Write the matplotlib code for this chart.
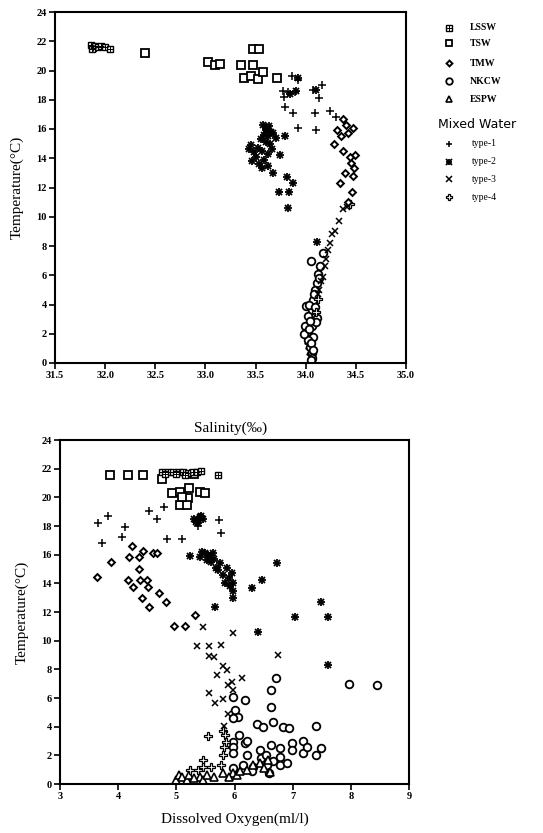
import matplotlib
matplotlib.use("Agg")
import matplotlib.pyplot as plt
from matplotlib.lines import Line2D

# ---- upper panel: salinity vs temperature ----
lssw_s = [31.86, 31.88, 31.90, 31.93, 31.96, 32.00, 32.05, 31.87]
lssw_t = [21.75, 21.55, 21.70, 21.60, 21.70, 21.60, 21.50, 21.45]

tsw_s = [32.40, 33.03, 33.10, 33.15, 33.35, 33.47, 33.38, 33.45, 33.52, 33.57, 33.71, 33.47, 33.53]
tsw_t = [21.2, 20.6, 20.35, 20.45, 20.35, 20.35, 19.5, 19.6, 19.45, 19.9, 19.5, 21.5, 21.5]

tmw_s = [34.37, 34.31, 34.47, 34.42, 34.35, 34.28, 34.37, 34.49, 34.45, 34.48, 34.39, 34.47,
         34.34, 34.46, 34.42, 34.44, 34.40]
tmw_t = [16.7, 15.9, 16.1, 15.7, 15.5, 15.0, 14.5, 14.2, 13.7, 13.3, 13.0, 12.8,
         12.3, 11.7, 11.0, 14.1, 16.3]

nkcw_s = [34.05, 34.17, 34.14, 34.12, 34.11, 34.09, 34.07, 34.00, 34.06, 34.11, 34.02, 33.99,
          34.06, 34.01, 34.07, 34.04, 34.06, 34.06, 34.02, 34.10, 34.03, 34.08, 34.13, 34.04,
          33.98, 34.05, 34.07, 34.05, 34.03, 34.09]
nkcw_t = [7.0, 7.5, 6.6, 6.1, 5.5, 5.0, 4.3, 3.9, 3.6, 3.1, 3.2, 2.5,
          2.5, 2.1, 1.8, 1.1, 0.7, 0.35, 1.6, 2.8, 4.0, 4.7, 5.8, 2.9,
          2.0, 1.4, 0.9, 0.2, 2.3, 3.8]

espw_s = [34.02, 34.03, 34.01, 34.04, 34.05, 34.06, 34.05, 34.03, 34.00]
espw_t = [2.0, 1.6, 2.4, 1.2, 0.8, 0.4, 0.1, 1.9, 2.2]

t1_s = [33.86, 33.92, 33.77, 33.89, 33.82, 33.78, 33.79, 33.87, 34.09, 34.24, 33.92, 34.10,
        34.07, 34.16, 34.13, 34.30]
t1_t = [19.6, 19.35, 18.6, 18.5, 18.5, 18.2, 17.5, 17.1, 17.1, 17.2, 16.1, 15.95,
        18.7, 19.0, 18.1, 16.8]

t2_s = [33.57, 33.60, 33.63, 33.60, 33.65, 33.58, 33.62, 33.67, 33.55, 33.60, 33.70, 33.64,
        33.79, 33.45, 33.43, 33.48, 33.52, 33.56, 33.50, 33.46, 33.53, 33.58, 33.62, 33.66,
        33.74, 33.56, 33.62, 33.67, 33.81, 33.87, 33.73, 33.83, 33.82, 34.11, 33.92, 33.90,
        34.10, 33.84]
t2_t = [16.3, 16.1, 16.2, 15.9, 15.8, 15.6, 15.5, 15.7, 15.3, 15.1, 15.4, 15.0,
        15.5, 14.9, 14.6, 14.4, 14.7, 14.5, 14.1, 13.8, 13.6, 13.9, 14.3, 14.6,
        14.2, 13.3, 13.5, 13.0, 12.7, 12.3, 11.7, 11.7, 10.6, 8.3, 19.5, 18.6,
        18.7, 18.4]

t3_s = [34.41, 34.33, 34.29, 34.26, 34.24, 34.22, 34.20, 34.19, 34.17, 34.15, 34.13, 34.37, 34.12]
t3_t = [10.7, 9.7, 9.0, 8.8, 8.2, 7.7, 7.1, 6.6, 5.9, 5.6, 5.0, 10.5, 4.7]

t4_s = [34.44, 34.12, 34.10]
t4_t = [10.9, 4.4, 3.5]

# ---- lower panel: dissolved oxygen vs temperature ----
lssw_o = [4.75, 4.85, 4.95, 5.05, 5.12, 5.20, 5.28, 5.35, 5.42, 5.72, 4.80, 5.00, 5.15]
lssw_t2 = [21.8, 21.8, 21.8, 21.75, 21.8, 21.7, 21.75, 21.8, 21.85, 21.55, 21.6, 21.6, 21.55]

tsw_o = [3.86, 4.17, 4.43, 4.76, 4.93, 5.06, 5.22, 5.20, 5.41, 5.50, 5.06, 5.19, 5.30, 5.10]
tsw_t2 = [21.55, 21.55, 21.55, 21.3, 20.3, 20.4, 20.65, 19.95, 20.4, 20.3, 19.45, 19.45, 21.6, 20.0]

tmw_o = [3.64, 3.88, 4.24, 4.19, 4.35, 4.42, 4.36, 4.17, 4.26, 4.37, 4.50, 4.52, 4.41, 4.53,
         4.71, 4.82, 4.60, 4.67, 5.32, 4.96, 5.15]
tmw_t2 = [14.45, 15.5, 16.6, 15.85, 15.85, 16.25, 15.0, 14.2, 13.75, 14.2, 14.2, 13.75, 13.0, 12.35,
          13.3, 12.7, 16.1, 16.1, 11.8, 11.0, 11.0]

nkcw_o = [6.72, 6.62, 5.98, 6.18, 6.62, 6.01, 6.06, 5.98, 6.66, 6.39, 6.49, 6.83, 6.94, 7.40,
          7.97, 8.45, 6.08, 5.98, 5.98, 5.98, 6.18, 6.22, 6.21, 6.44, 6.62, 6.79, 6.99, 7.17,
          7.17, 7.25, 6.99, 7.49, 7.40, 6.79, 6.79, 6.56, 6.15, 5.98, 6.32, 6.66, 6.45, 6.55,
          6.30, 6.60, 6.90]
nkcw_t2 = [7.4, 6.55, 6.1, 5.85, 5.4, 5.15, 4.7, 4.6, 4.35, 4.2, 3.95, 3.95, 3.9, 4.05,
           6.95, 6.9, 3.4, 2.95, 2.6, 2.15, 2.85, 3.0, 2.0, 2.4, 2.7, 2.5, 2.85, 3.0,
           2.15, 2.6, 2.4, 2.5, 2.0, 1.9, 1.3, 1.3, 1.3, 1.1, 1.2, 1.6, 1.8, 2.0,
           0.9, 0.8, 1.5]

espw_o = [5.00, 5.05, 5.10, 5.18, 5.22, 5.41, 5.45, 5.52, 5.80, 5.98, 6.05, 6.21, 6.32, 6.44,
          6.61, 6.58, 6.10, 5.65, 5.30, 6.50, 5.90]
espw_t2 = [0.3, 0.6, 0.5, 0.3, 0.6, 0.5, 0.3, 0.6, 0.75, 0.75, 0.6, 1.0, 1.3, 1.45,
           0.85, 1.7, 0.9, 0.5, 0.4, 1.1, 0.5]

t1_o = [3.65, 3.83, 4.12, 4.07, 3.72, 4.53, 4.67, 4.79, 4.84, 5.10, 5.73, 5.77, 5.35, 5.38]
t1_t2 = [18.2, 18.7, 17.9, 17.2, 16.8, 19.05, 18.5, 19.3, 17.1, 17.1, 18.4, 17.5, 18.2, 18.0]

t2_o = [5.30, 5.35, 5.40, 5.45, 5.38, 5.42, 5.33, 5.24, 5.41, 5.44, 5.50, 5.52, 5.58, 5.63,
        5.60, 5.69, 5.75, 5.72, 5.80, 5.87, 5.84, 5.90, 5.96, 5.98, 5.98, 5.98, 5.93, 5.66,
        6.30, 6.47, 6.73, 7.04, 7.49, 7.61, 6.40, 7.61, 5.65, 5.55]
t2_t2 = [18.5, 18.4, 18.6, 18.5, 18.2, 18.7, 18.3, 15.9, 15.85, 16.2, 16.1, 15.6, 15.9, 16.1,
         15.5, 15.1, 15.4, 14.9, 14.6, 15.1, 14.0, 14.4, 14.7, 14.0, 13.5, 13.0, 13.8, 12.35,
         13.7, 14.2, 15.4, 11.65, 12.7, 11.65, 10.6, 8.3, 15.7, 16.0]

t3_o = [5.46, 5.98, 5.36, 5.56, 5.77, 5.56, 5.65, 5.81, 5.87, 5.70, 5.96, 6.13, 6.75, 5.56,
        5.66, 5.81, 5.98, 5.89, 5.82, 5.89]
t3_t2 = [10.95, 10.55, 9.6, 9.6, 9.7, 8.9, 8.85, 8.2, 7.95, 7.6, 7.1, 7.4, 9.0, 6.35,
         5.65, 5.9, 6.55, 4.9, 4.05, 6.9]

t4_o = [5.54, 5.80, 5.84, 5.82, 5.80, 5.46, 5.46, 5.60, 5.76, 5.37, 5.23, 5.85]
t4_t2 = [3.35, 3.7, 3.4, 2.6, 2.0, 1.67, 1.2, 1.2, 1.3, 1.0, 1.0, 2.9]

W, H = 543, 833
fig = plt.figure(figsize=(W / 100, H / 100), dpi=100)
serif = "Liberation Serif"

def px_box(l, t, r, b):
    return [l / W, 1 - b / H, (r - l) / W, (b - t) / H]

ax1 = fig.add_axes(px_box(55, 12, 406, 363))
ax2 = fig.add_axes(px_box(60, 440, 409, 784))

styles = {
    "lssw": dict(marker="s", ms=5.0, mfc="white", mec="k", mew=1.0),
    "tsw": dict(marker="s", ms=5.4, mfc="white", mec="k", mew=1.3),
    "tmw": dict(marker="D", ms=3.5, mfc="white", mec="k", mew=1.4),
    "nkcw": dict(marker="o", ms=5.5, mfc="white", mec="k", mew=1.3),
    "espw": dict(marker="^", ms=5.2, mfc="white", mec="k", mew=1.2),
    "t1": dict(marker="+", ms=5.5, mec="k", mew=1.1),
    "t2": dict(marker="+", ms=5.4, mec="k", mew=1.3),
    "t3": dict(marker="x", ms=5.0, mec="k", mew=1.1),
    "t4": dict(marker="P", ms=5.5, mfc="white", mec="k", mew=0.9),
}

def draw(ax, key, x, y):
    ax.plot(x, y, ls="none", **styles[key])
    if key == "lssw":
        ax.plot(x, y, ls="none", marker="+", ms=5.0, mec="k", mew=0.7)
    if key == "t2":
        ax.plot(x, y, ls="none", marker="x", ms=4.4, mec="k", mew=1.3)

for ax, series in [
    (ax1, [("espw", espw_s, espw_t), ("nkcw", nkcw_s, nkcw_t), ("t3", t3_s, t3_t),
           ("t4", t4_s, t4_t), ("tmw", tmw_s, tmw_t), ("t2", t2_s, t2_t),
           ("t1", t1_s, t1_t), ("tsw", tsw_s, tsw_t), ("lssw", lssw_s, lssw_t)]),
    (ax2, [("nkcw", nkcw_o, nkcw_t2), ("espw", espw_o, espw_t2), ("t4", t4_o, t4_t2),
           ("t3", t3_o, t3_t2), ("tmw", tmw_o, tmw_t2), ("t2", t2_o, t2_t2),
           ("t1", t1_o, t1_t2), ("tsw", tsw_o, tsw_t2), ("lssw", lssw_o, lssw_t2)]),
]:
    for key, x, y in series:
        draw(ax, key, x, y)

ax1.set_xlim(31.5, 35.0)
ax1.set_xticks([31.5 + 0.5 * i for i in range(8)])
ax1.set_xticklabels(["%.1f" % (31.5 + 0.5 * i) for i in range(8)])
ax2.set_xlim(3, 9)
ax2.set_xticks(range(3, 10))

for ax in (ax1, ax2):
    ax.set_ylim(0, 24)
    ax.set_yticks(range(0, 25, 2))
    ax.tick_params(direction="out", length=4, width=1.2, pad=2,
                   top=False, right=False)
    for lab in ax.get_xticklabels() + ax.get_yticklabels():
        lab.set_fontfamily(serif)
        lab.set_fontweight("bold")
        lab.set_fontsize(7.5)
    for sp in ax.spines.values():
        sp.set_linewidth(1.5)
    ax.set_ylabel("Temperature(\u00b0C)", fontfamily=serif, fontsize=11, labelpad=9)

ax1.set_xlabel("Salinity(\u2030)", fontfamily=serif, fontsize=11, labelpad=30)
ax2.set_xlabel("Dissolved Oxygen(ml/l)", fontfamily=serif, fontsize=11, labelpad=8)

# legend drawn at fixed pixel positions
legend_rows = [("lssw", "LSSW", 28), ("tsw", "TSW", 43), ("tmw", "TMW", 63),
               ("nkcw", "NKCW", 81), ("espw", "ESPW", 99)]
mixed_rows = [("t1", "type-1", 144), ("t2", "type-2", 162), ("t3", "type-3", 179),
              ("t4", "type-4", 197)]

def leg_marker(key, ypx):
    pos = ([449 / W], [1 - ypx / H])
    st = dict(styles[key])
    st["ms"] = st["ms"] * 0.85
    fig.add_artist(Line2D(*pos, transform=fig.transFigure, ls="none", **st))
    if key == "lssw":
        fig.add_artist(Line2D(*pos, transform=fig.transFigure, ls="none",
                              marker="+", ms=4.2, mec="k", mew=0.7))
    if key == "t2":
        fig.add_artist(Line2D(*pos, transform=fig.transFigure, ls="none",
                              marker="x", ms=3.7, mec="k", mew=1.3))

for key, name, ypx in legend_rows:
    leg_marker(key, ypx)
    fig.text(470 / W, 1 - ypx / H, name, fontfamily=serif, fontweight="bold",
             fontsize=7, va="center", ha="left")

fig.text(438 / W, 1 - 124 / H, "Mixed Water", fontfamily="DejaVu Sans",
         fontsize=9, va="center", ha="left")
for key, name, ypx in mixed_rows:
    leg_marker(key, ypx)
    fig.text(472 / W, 1 - ypx / H, name, fontfamily=serif, fontsize=7,
             va="center", ha="left")

fig.savefig("out.png", dpi=100)
